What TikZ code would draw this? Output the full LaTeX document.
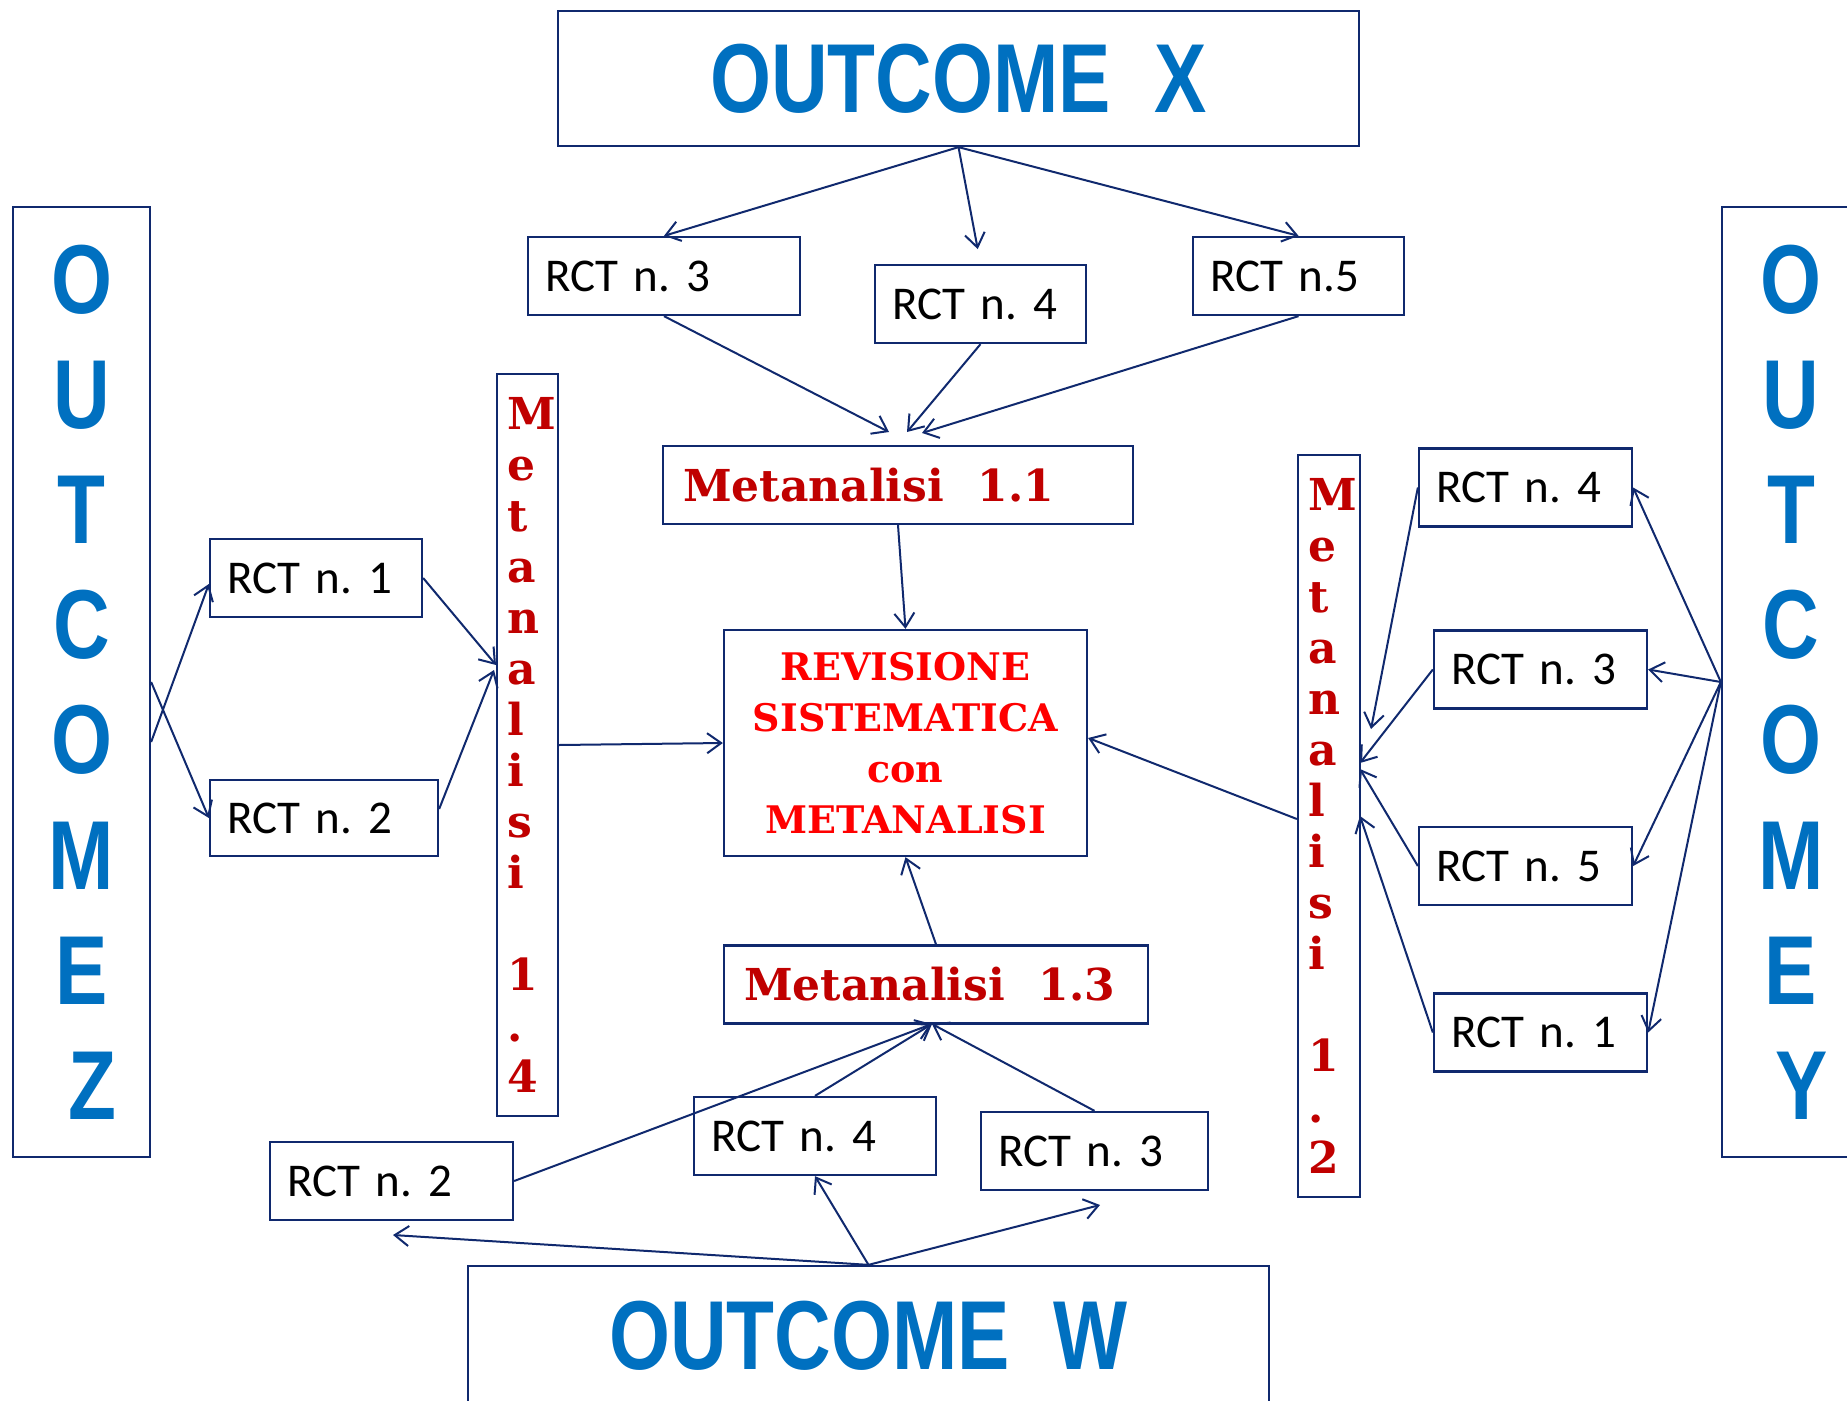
\documentclass[tikz,border=0pt]{standalone}
\usepackage{fontspec}
\setmainfont{Carlito}
\newfontfamily\outfont[FakeStretch=0.8]{Liberation Sans}
\newfontfamily\metafont{DejaVu Serif}
\usetikzlibrary{arrows.meta}
\definecolor{boxnavy}{HTML}{10296E}
\definecolor{outblue}{HTML}{0070C0}
\definecolor{metared}{HTML}{C00000}
\definecolor{revred}{HTML}{FF0000}
\begin{document}
\frenchspacing
\begin{tikzpicture}[x=1pt,y=-1pt,
  box/.style={draw=boxnavy, line width=2.3pt, inner sep=0pt},
  rct/.style={box, minimum height=78pt, inner xsep=17pt, align=left, text width=#1, font=\frenchspacing\fontsize{47}{47}\selectfont},
  outh/.style={box, text=outblue, font=\outfont\bfseries\fontsize{98}{98}\selectfont},
  outv/.style={box, text=outblue, align=center, font=\outfont\bfseries\fontsize{98}{115.2}\selectfont},
  meta/.style={box, minimum height=78pt, inner xsep=20pt, align=left, text width=#1, text=metared, font=\metafont\bfseries\fontsize{44}{44}\selectfont},
  metav/.style={box, minimum height=742pt, inner xsep=10pt, align=left, text width=#1, text=metared, font=\metafont\bfseries\fontsize{44}{51}\selectfont},
  revbox/.style={box, minimum width=363pt, minimum height=226pt, align=center, text=revred, font=\metafont\bfseries\fontsize{38}{51}\selectfont},
  arr/.style={draw=boxnavy, line width=2pt, -{Straight Barb[length=14pt,width=20pt]}}
]
\clip (0,0) rectangle (1847,1400);
\fill[white] (0,0) rectangle (1847,1400);

% outcome boxes
\node[outh, minimum width=801pt, minimum height=135pt] (ox) at (958.5,78.5) {OUTCOME\ \ X};
\node[outh, minimum width=801pt, minimum height=140pt] (ow) at (868.5,1336) {OUTCOME\ \ W};
\node[outv, minimum width=137pt, minimum height=950pt] (oz) at (81.5,682) {O\\U\\T\\C\\O\\M\\E\\\hspace*{22pt}Z};
\node[outv, minimum width=138pt, minimum height=950pt] (oy) at (1791,682) {O\\U\\T\\C\\O\\M\\E\\\hspace*{22pt}Y};

% top RCTs
\node[rct=238pt] (t3) at (664,276) {RCT n. 3};
\node[rct=177pt] (t4) at (980.5,304) {RCT n. 4};
\node[rct=177pt] (t5) at (1298.5,276) {RCT n.5};

% meta-analyses
\node[meta=430pt] (m11) at (898,485) {Metanalisi\hspace{34pt}1.1};
\node[meta=384pt] (m13) at (936,984.5) {Metanalisi\hspace{34pt}1.3};
\node[metav=41pt] (m14) at (527.5,745) {M\\e\\t\\a\\n\\a\\l\\i\\s\\i\\~\\1\\.\\4};
\node[metav=42pt] (m12) at (1329,826) {M\\e\\t\\a\\n\\a\\l\\i\\s\\i\\~\\1\\.\\2};
\node[revbox] (rev) at (905.5,743) {REVISIONE\\SISTEMATICA\\con\\METANALISI};

% left RCTs
\node[rct=178pt] (l1) at (316,578) {RCT n. 1};
\node[rct=194pt, minimum height=76pt] (l2) at (324,818) {RCT n. 2};

% right RCTs
\node[rct=179pt] (r4) at (1525.5,487.5) {RCT n. 4};
\node[rct=179pt] (r3) at (1540.5,669.5) {RCT n. 3};
\node[rct=179pt] (r5) at (1525.5,866) {RCT n. 5};
\node[rct=179pt] (r1) at (1540.5,1032.5) {RCT n. 1};

% bottom RCTs
\node[rct=209pt] (b2) at (391.5,1181) {RCT n. 2};
\node[rct=208pt] (b4) at (815,1136) {RCT n. 4};
\node[rct=193pt] (b3) at (1094.5,1151) {RCT n. 3};

% free arrow ends
\coordinate (m11a) at (889,432);
\coordinate (m11b) at (907,432);
\coordinate (m11c) at (922,433);
\coordinate (m13in) at (932,1024);
\coordinate (b2tip) at (393,1235);
\coordinate (b3tip) at (1100,1205);
\coordinate (m14a) at (496,665);
\coordinate (m14b) at (494,670);
\coordinate (m12a) at (1371,729);
\coordinate (m12b) at (1360,763);
\coordinate (m12c) at (1360,769);
\coordinate (m12d) at (1360,816);

% top connectors
\draw[arr] (ox.south) -- (t3.north);
\draw[arr, shorten >=15pt] (ox.south) -- (t4.north);
\draw[arr] (ox.south) -- (t5.north);
\draw[arr] (t3.south) -- (m11a);
\draw[arr] (t4.south) -- (m11b);
\draw[arr] (t5.south) -- (m11c);
\draw[arr] (m11.south) -- (rev.north);

% into the review
\draw[arr] (m14.east) -- (rev.west);
\draw[arr] ([yshift=7pt]m12.west) -- ([yshift=5pt]rev.east);
\draw[arr] (m13.north) -- (rev.south);

% bottom connectors
\draw[arr] (b2.east) -- (m13in);
\draw[arr] (b4.north) -- (m13in);
\draw[arr] (b3.north) -- (m13in);
\draw[arr] (ow.north) -- (b2tip);
\draw[arr] (ow.north) -- (b4.south);
\draw[arr] (ow.north) -- (b3tip);

% left connectors
\draw[arr] ([yshift=-60pt]oz.east) -- ([yshift=-6pt]l1.west);
\draw[arr] (oz.east) -- (l2.west);
\draw[arr] (l1.east) -- (m14a);
\draw[arr] ([yshift=9pt]l2.east) -- (m14b);

% right connectors
\draw[arr] (oy.west) -- (r4.east);
\draw[arr] (oy.west) -- (r3.east);
\draw[arr] (oy.west) -- (r5.east);
\draw[arr] (oy.west) -- (r1.east);
\draw[arr] (r4.west) -- (m12a);
\draw[arr] (r3.west) -- (m12b);
\draw[arr] (r5.west) -- (m12c);
\draw[arr] (r1.west) -- (m12d);
\end{tikzpicture}
\end{document}
